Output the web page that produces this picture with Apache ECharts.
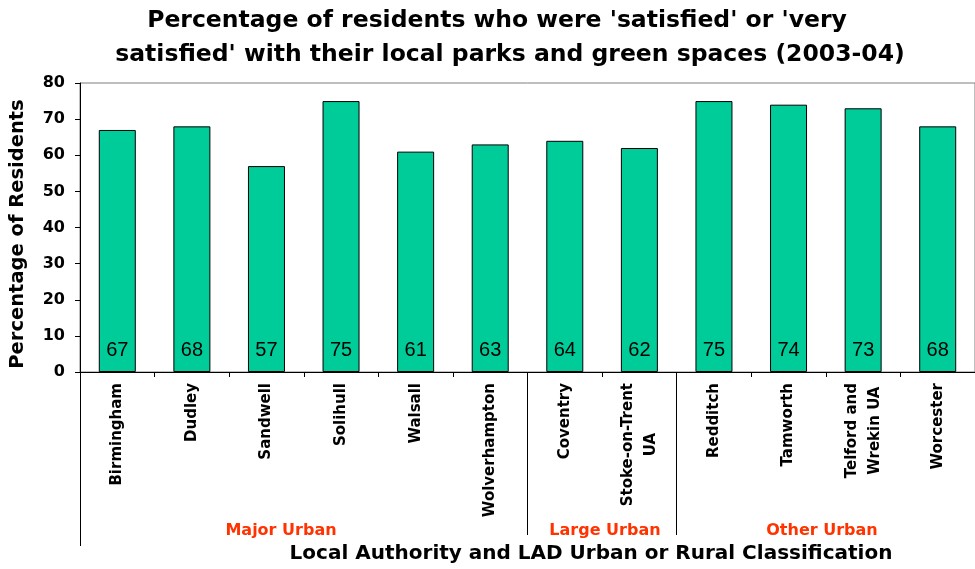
<!DOCTYPE html>
<html>
<head>
<meta charset="utf-8">
<script src="https://cdn.jsdelivr.net/npm/echarts@6/dist/echarts.min.js"></script>
<style>
html,body{margin:0;padding:0;background:#fff;}
#chart{width:975px;height:569px;}
</style>
</head>
<body>
<div id="chart"></div>
<script>
const titleLines = ["Percentage of residents who were 'satisfied' or 'very", "satisfied' with their local parks and green spaces (2003-04)"];
const categories = ['Birmingham','Dudley','Sandwell','Solihull','Walsall','Wolverhampton','Coventry','Stoke-on-Trent\nUA','Redditch','Tamworth','Telford and\nWrekin UA','Worcester'];
const values = [67,68,57,75,61,63,64,62,75,74,73,68];
const groupNames = ['Major Urban','Large Urban','Other Urban'];
const groupStartIndex = [0,6,8];
const yMin = 0, yMax = 80, yInterval = 10;
const yAxisTitle = 'Percentage of Residents';
const xAxisTitle = 'Local Authority and LAD Urban or Rural Classification';

const BOLD = {fontFamily:'DejaVu Sans', fontWeight:'bold', color:'#000'};
const groupLabelX = [281, 605, 822];

const chart = echarts.init(document.getElementById('chart'), null, {renderer:'canvas'});
const option = {
  backgroundColor:'#fff',
  animation:false,
  title: [
    {text: titleLines[0], left: 497, top: 9, textAlign:'center', padding:0,
     textStyle:Object.assign({}, BOLD, {fontSize:23.5})},
    {text: titleLines[1], left: 510, top: 43, textAlign:'center', padding:0,
     textStyle:Object.assign({}, BOLD, {fontSize:23.5})}
  ],
  grid: {left:78, top:83, right:-3, bottom:195, show:true, borderColor:'#7f7f7f', borderWidth:1, backgroundColor:'transparent', containLabel:false},
  xAxis: [
    {
      type:'category', data:categories, position:'bottom',
      name: xAxisTitle, nameLocation:'middle', nameGap:172,
      nameTextStyle:Object.assign({}, BOLD, {fontSize:20, padding:[0,0,0,127]}),
      axisLine:{show:true, lineStyle:{color:'#000', width:1}},
      axisTick:{show:true, length:5, interval:0, lineStyle:{color:'#000'}},
      axisLabel:{
        interval:0, rotate:90, margin:11,
        formatter: function(v){ return v.split('\n').map(function(s){return '{c|'+s+'}';}).join('\n'); },
        rich:{c:Object.assign({}, BOLD, {fontSize:15, lineHeight:23, align:'center'})}
      }
    },
    {
      type:'category', data:categories, position:'bottom',
      axisLine:{show:false}, axisLabel:{show:false},
      axisTick:{show:true, length:163, interval:function(i){return i===groupStartIndex[1] || i===groupStartIndex[2];}, lineStyle:{color:'#000'}}
    },
    {
      type:'category', data:categories, position:'bottom',
      axisLine:{show:false}, axisLabel:{show:false},
      axisTick:{show:true, length:174, interval:function(i){return i===groupStartIndex[0];}, lineStyle:{color:'#000'}}
    }
  ],
  yAxis: {
    type:'value', min:yMin, max:yMax, interval:yInterval,
    name: yAxisTitle, nameLocation:'middle', nameGap:52,
    nameTextStyle:Object.assign({}, BOLD, {fontSize:19.5, padding:[0,13,0,0]}),
    axisLine:{show:true, lineStyle:{color:'#000'}},
    axisTick:{show:true, length:5, lineStyle:{color:'#000'}},
    splitLine:{show:false},
    axisLabel:Object.assign({}, BOLD, {fontSize:16, margin:15})
  },
  series: [{
    type:'bar', data:values, xAxisIndex:0, barWidth:37,
    itemStyle:{color:'#00CC99', borderColor:'#000', borderWidth:1},
    label:{show:true, position:'insideBottom', distance:12, color:'#000', fontFamily:'Liberation Sans', fontSize:20, fontWeight:'normal'}
  }],
  graphic: groupNames.map(function(n,i){
    return {type:'text', x:groupLabelX[i], y:531, style:{text:n, align:'center', verticalAlign:'middle', fill:'#FF3300', font:'bold 16px "DejaVu Sans"'}};
  })
};
chart.setOption(option);
</script>
</body>
</html>
